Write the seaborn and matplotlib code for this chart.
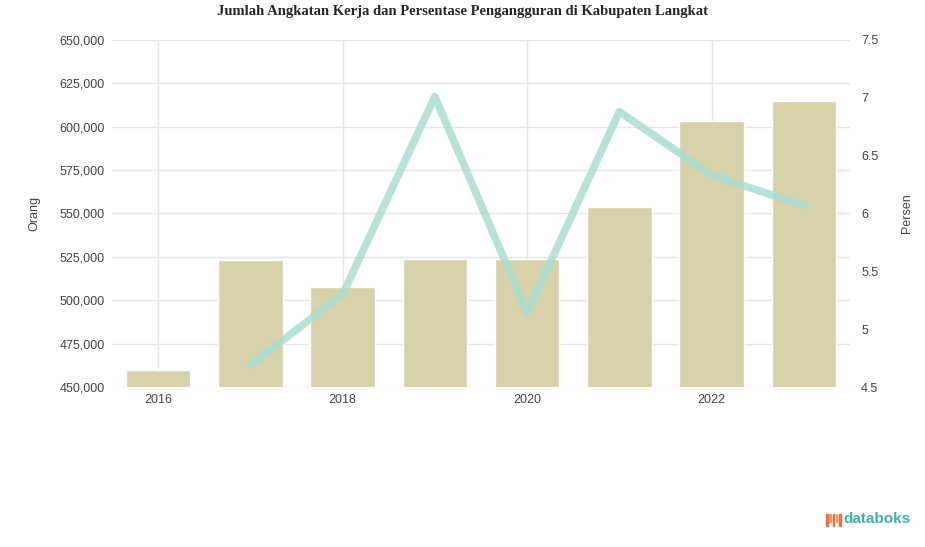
import matplotlib
matplotlib.use("Agg")
import matplotlib.pyplot as plt
import numpy as np
import pandas as pd
import seaborn as sns

# Data
years = ["2016", "2017", "2018", "2019", "2020", "2021", "2022", "2023"]
labor_force = [459800, 523000, 507600, 524000, 523500, 553700, 603000, 615000]
unemployment = [np.nan, 4.69, 5.30, 7.01, 5.14, 6.88, 6.33, 6.07]

left_ticks = [450000, 475000, 500000, 525000, 550000, 575000, 600000, 625000, 650000]
right_ticks = [4.5, 5, 5.5, 6, 6.5, 7, 7.5]

df = pd.DataFrame({"year": years, "labor": labor_force, "rate": unemployment})

sns.set_style("white")
plt.rcParams["font.family"] = ["Liberation Sans", "DejaVu Sans"]

fig = plt.figure(figsize=(9.25, 5.47), dpi=100)
ax = fig.add_axes([0.121, 0.2925, 0.798, 0.6345])

sns.barplot(data=df, x="year", y="labor", ax=ax, color="#d8d2ab",
            width=0.7, saturation=1, zorder=2)
ax.set_ylim(left_ticks[0], left_ticks[-1])
ax.set_yticks(left_ticks)
ax.set_yticklabels([f"{v:,}" for v in left_ticks], color="#444444", fontsize=9)
ax.set_xlim(-0.5, len(years) - 0.5)
shown = list(range(0, len(years), 2))
ax.set_xticks(shown)
ax.set_xticklabels([years[i] for i in shown], color="#444444", fontsize=9)
ax.tick_params(length=0, pad=5)
ax.grid(True, color="#e6e6e6", linewidth=1, zorder=0)
ax.set_axisbelow(True)
ax.set_xlabel("")
ax.set_ylabel("Orang", color="#444444", fontsize=9, labelpad=14)
for s in ax.spines.values():
    s.set_visible(False)

ax2 = ax.twinx()
sns.lineplot(x=np.arange(len(years)), y=df["rate"], ax=ax2, color="#a9ddd0",
             linewidth=5.5, alpha=0.85, zorder=3)
ax2.set_ylim(right_ticks[0], right_ticks[-1])
ax2.set_yticks(right_ticks)
ax2.set_yticklabels([f"{v:g}" for v in right_ticks], color="#444444", fontsize=9)
ax2.tick_params(length=0, pad=8)
ax2.set_ylabel("Persen", color="#444444", fontsize=9, labelpad=16)
ax2.grid(False)
for s in ax2.spines.values():
    s.set_visible(False)

fig.text(0.5, 0.979, "Jumlah Angkatan Kerja dan Persentase Pengangguran di Kabupaten Langkat",
         ha="center", va="center", fontsize=10.5, fontweight="bold",
         family=["Liberation Serif", "DejaVu Serif"])

# databoks logo
icon_colors = ["#f26b4f", "#f0a04b", "#f26b4f", "#f0a04b", "#f26b4f"]
for i, c in enumerate(icon_colors):
    h = 0.022 if i % 2 == 0 else 0.015
    fig.patches.append(plt.Rectangle((0.893 + i * 0.0035, 0.038 + (0.022 - h)),
                                     0.0018, h, transform=fig.transFigure,
                                     color=c))
fig.text(0.912, 0.052, "databoks", ha="left", va="center", fontsize=11,
         color="#3bb3a9", fontweight="bold")

fig.savefig("out.png", dpi=100)
